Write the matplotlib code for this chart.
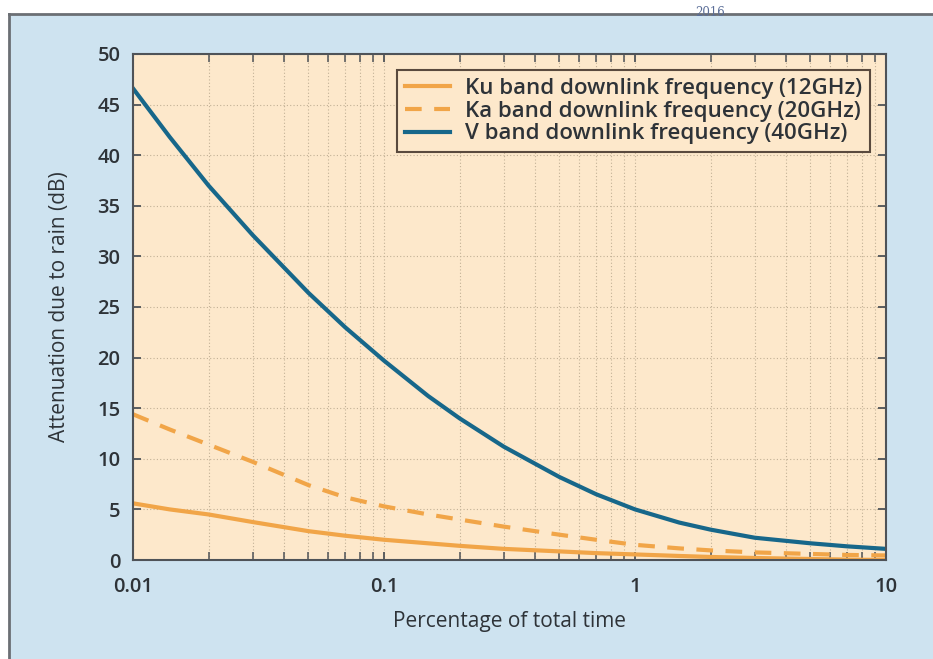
import numpy as np
import matplotlib.pyplot as plt
from matplotlib.patches import Rectangle
from matplotlib.lines import Line2D
from matplotlib.ticker import LogLocator, FixedLocator, NullFormatter

# percentage of total time (log axis)
pct = [0.01, 0.014, 0.02, 0.03, 0.05, 0.07, 0.1, 0.15, 0.2, 0.3, 0.5, 0.7, 1, 1.5, 2, 3, 5, 7, 10]

# attenuation due to rain (dB)
ku = [5.6, 5.0, 4.5, 3.75, 2.85, 2.4, 2.0, 1.65, 1.4, 1.1, 0.85, 0.68, 0.55, 0.4, 0.3, 0.2, 0.1, 0.04, 0.0]
ka = [14.4, 12.9, 11.4, 9.7, 7.4, 6.2, 5.3, 4.5, 4.0, 3.3, 2.5, 2.0, 1.5, 1.15, 0.95, 0.75, 0.6, 0.5, 0.45]
v = [46.6, 41.8, 37.0, 32.1, 26.4, 23.0, 19.7, 16.2, 14.0, 11.2, 8.2, 6.5, 5.0, 3.7, 3.0, 2.2, 1.65, 1.35, 1.1]

labels = ['Ku band downlink frequency (12GHz)',
          'Ka band downlink frequency (20GHz)',
          'V band downlink frequency (40GHz)']

orange = '#f1a548'
teal = '#17678a'
peach = '#fde8cb'
panel = '#cee3f0'
dark = '#4f5358'
txt = '#2e3338'

plt.rcParams['font.family'] = ['Open Sans', 'DejaVu Sans']

fig = plt.figure(figsize=(9.33, 6.59), dpi=100)
fig.patch.set_facecolor('white')

# light blue panel behind the chart
fig.patches.append(Rectangle((9/933, 0), 1, 1 - 14/659, transform=fig.transFigure,
                             facecolor=panel, edgecolor='none', zorder=-2))
fig.lines.append(Line2D([9/933, 1], [1 - 14/659, 1 - 14/659], transform=fig.transFigure,
                        color='#6b6f74', lw=2))
fig.lines.append(Line2D([9/933, 9/933], [0, 1 - 14/659], transform=fig.transFigure,
                        color='#6b6f74', lw=2))
fig.text(710/933, 1 - 13/659, '2016', fontsize=8.5, color='#5b6e98',
         family='DejaVu Serif', ha='center', va='center')

ax = fig.add_axes([133/933, 1 - 560/659, 753/933, 506/659])
ax.set_facecolor(peach)

ax.plot(pct, ku, color=orange, lw=3, label=labels[0])
ax.plot(pct, ka, color=orange, lw=3, dashes=(4, 3), label=labels[1])
ax.plot(pct, v, color=teal, lw=3, label=labels[2])

ax.set_xscale('log')
ax.set_xlim(0.01, 10)
ax.set_ylim(0, 50)
ax.set_yticks(np.arange(0, 51, 5))
ax.xaxis.set_major_locator(FixedLocator([0.01, 0.1, 1, 10]))
ax.set_xticklabels(['0.01', '0.1', '1', '10'])
ax.xaxis.set_minor_locator(LogLocator(base=10, subs=np.arange(2, 10)))
ax.xaxis.set_minor_formatter(NullFormatter())

ax.grid(True, which='both', axis='x', linestyle=(0, (1, 2)), color='#c2b196', lw=0.8)
ax.grid(True, which='major', axis='y', linestyle=(0, (1, 2)), color='#c2b196', lw=0.8)

ax.tick_params(which='both', direction='in', top=True, right=True, color=dark)
ax.tick_params(which='major', length=6, width=1.3)
ax.tick_params(which='minor', length=6, width=1.1)
ax.tick_params(axis='both', labelsize=14.5, labelcolor=txt)
ax.tick_params(axis='x', pad=12)
ax.tick_params(axis='y', pad=9)
for lab in ax.get_xticklabels() + ax.get_yticklabels():
    lab.set_fontweight('semibold')
for s in ax.spines.values():
    s.set_color(dark)
    s.set_linewidth(1.5)

ax.set_xlabel('Percentage of total time', fontsize=15, color=txt, labelpad=10)
ax.set_ylabel('Attenuation due to rain (dB)', fontsize=15, color=txt, labelpad=20)

leg = ax.legend(loc='upper right', fontsize=16, frameon=True, fancybox=False,
                handlelength=2.0, handletextpad=0.7, borderpad=0.35, labelspacing=0.08,
                borderaxespad=0, bbox_to_anchor=(1 - 16/753, 1 - 16/506))
leg.get_frame().set_facecolor(peach)
leg.get_frame().set_edgecolor('#5a4a3e')
leg.get_frame().set_linewidth(1.5)
leg.get_frame().set_alpha(1)
for t in leg.get_texts():
    t.set_color(txt)
    t.set_fontweight('semibold')

plt.savefig('out.png', dpi=100)
